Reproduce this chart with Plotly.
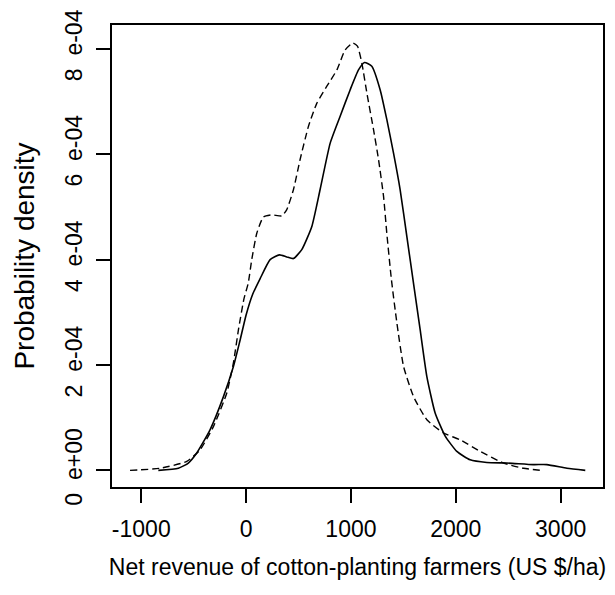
import plotly.graph_objects as go

# Solid curve (density estimate 1)
solid_x = [-837, -646, -551, -471, -344, -216, -121, -60, 0, 60, 134, 229, 318, 388, 452, 531,
           627, 706, 802, 897, 992, 1072, 1129, 1199, 1279, 1342, 1406, 1469, 1533, 1604,
           1660, 1724, 1803, 1899, 2010, 2137, 2296, 2487, 2741, 2869, 3060, 3235]
solid_y = [0.0, 0.4e-5, 1.4e-5, 3.3e-5, 7.7e-5, 1.40e-4, 1.97e-4, 2.45e-4, 2.95e-4, 3.33e-4, 3.64e-4,
           4.00e-4, 4.09e-4, 4.05e-4, 4.02e-4, 4.19e-4, 4.63e-4, 5.33e-4, 6.21e-4, 6.72e-4,
           7.22e-4, 7.60e-4, 7.74e-4, 7.67e-4, 7.22e-4, 6.66e-4, 6.02e-4, 5.33e-4, 4.44e-4,
           3.45e-4, 2.67e-4, 1.78e-4, 1.09e-4, 6.5e-5, 3.6e-5, 2.0e-5, 1.5e-5, 1.4e-5,
           1.1e-5, 1.1e-5, 0.4e-5, 0.0]

# Dashed curve (density estimate 2)
dashed_x = [-1107, -821, -566, -439, -312, -184, -121, -73, -20, 20, 54, 102, 165, 245, 341,
            388, 452, 515, 595, 675, 770, 866, 945, 1018, 1062, 1104, 1152, 1215, 1263, 1311,
            1342, 1386, 1438, 1502, 1597, 1724, 1883, 2042, 2233, 2455, 2646, 2822]
dashed_y = [0.0, 0.4e-5, 1.7e-5, 3.9e-5, 8.3e-5, 1.47e-4, 2.04e-4, 2.67e-4, 3.26e-4, 3.55e-4,
            4.00e-4, 4.50e-4, 4.81e-4, 4.85e-4, 4.83e-4, 4.95e-4, 5.33e-4, 5.90e-4, 6.53e-4,
            6.97e-4, 7.29e-4, 7.60e-4, 7.98e-4, 8.11e-4, 8.05e-4, 7.73e-4, 7.16e-4, 6.47e-4,
            5.90e-4, 5.20e-4, 4.50e-4, 3.62e-4, 2.80e-4, 1.97e-4, 1.40e-4, 9.6e-5, 7.1e-5,
            5.8e-5, 3.6e-5, 1.4e-5, 0.4e-5, 0.0]

x_ticks = [-1000, 0, 1000, 2000, 3000]
x_tick_labels = ["-1000", "0", "1000", "2000", "3000"]
y_ticks = [0, 2e-4, 4e-4, 6e-4, 8e-4]
y_tick_labels = ["0\u00a0\u00a0e+00", "2\u00a0\u00a0e-04", "4\u00a0\u00a0e-04",
                 "6\u00a0\u00a0e-04", "8\u00a0\u00a0e-04"]

x_title = "Net revenue of cotton-planting farmers (US $/ha)"
y_title = "Probability density"

FONT = "Liberation Sans, Arial, sans-serif"

fig = go.Figure()
fig.add_trace(go.Scatter(x=solid_x, y=solid_y, mode="lines",
                         line=dict(color="black", width=1.6, shape="spline", smoothing=0.5),
                         showlegend=False))
fig.add_trace(go.Scatter(x=dashed_x, y=dashed_y, mode="lines",
                         line=dict(color="black", width=1.4, dash="7px,4px", shape="spline", smoothing=0.5),
                         showlegend=False))

# The page body has an 8px default margin, so the figure is 8px smaller
fig.update_layout(
    width=607, height=587,
    margin=dict(l=104, r=12, t=17, b=108, autoexpand=False),
    paper_bgcolor="white", plot_bgcolor="white",
    font=dict(family=FONT, color="black", size=23),
)
fig.update_xaxes(
    range=[-1279, 3404], tickvals=x_ticks, ticktext=x_tick_labels,
    showgrid=False, zeroline=False, automargin=False,
    showline=True, linecolor="black", linewidth=1.5, mirror=True,
    ticks="outside", ticklen=14, tickwidth=1.5, tickcolor="black",
    tickfont=dict(size=23, family=FONT), ticklabelstandoff=7,
    ticklabeloverflow="allow",
    title=dict(text=x_title, font=dict(size=23, family=FONT), standoff=18),
)
fig.update_yaxes(
    range=[-3.15e-5, 8.452e-4], tickvals=y_ticks, ticktext=y_tick_labels,
    showgrid=False, zeroline=False, automargin=False,
    showline=True, linecolor="black", linewidth=1.5, mirror=True,
    ticks="outside", ticklen=14, tickwidth=1.5, tickcolor="black",
    tickangle=-90, ticklabeloverflow="allow",
    tickfont=dict(size=23, family=FONT), ticklabelstandoff=5,
    title=dict(text=y_title, font=dict(size=28, family=FONT), standoff=18),
)

fig.write_html("out.html")
